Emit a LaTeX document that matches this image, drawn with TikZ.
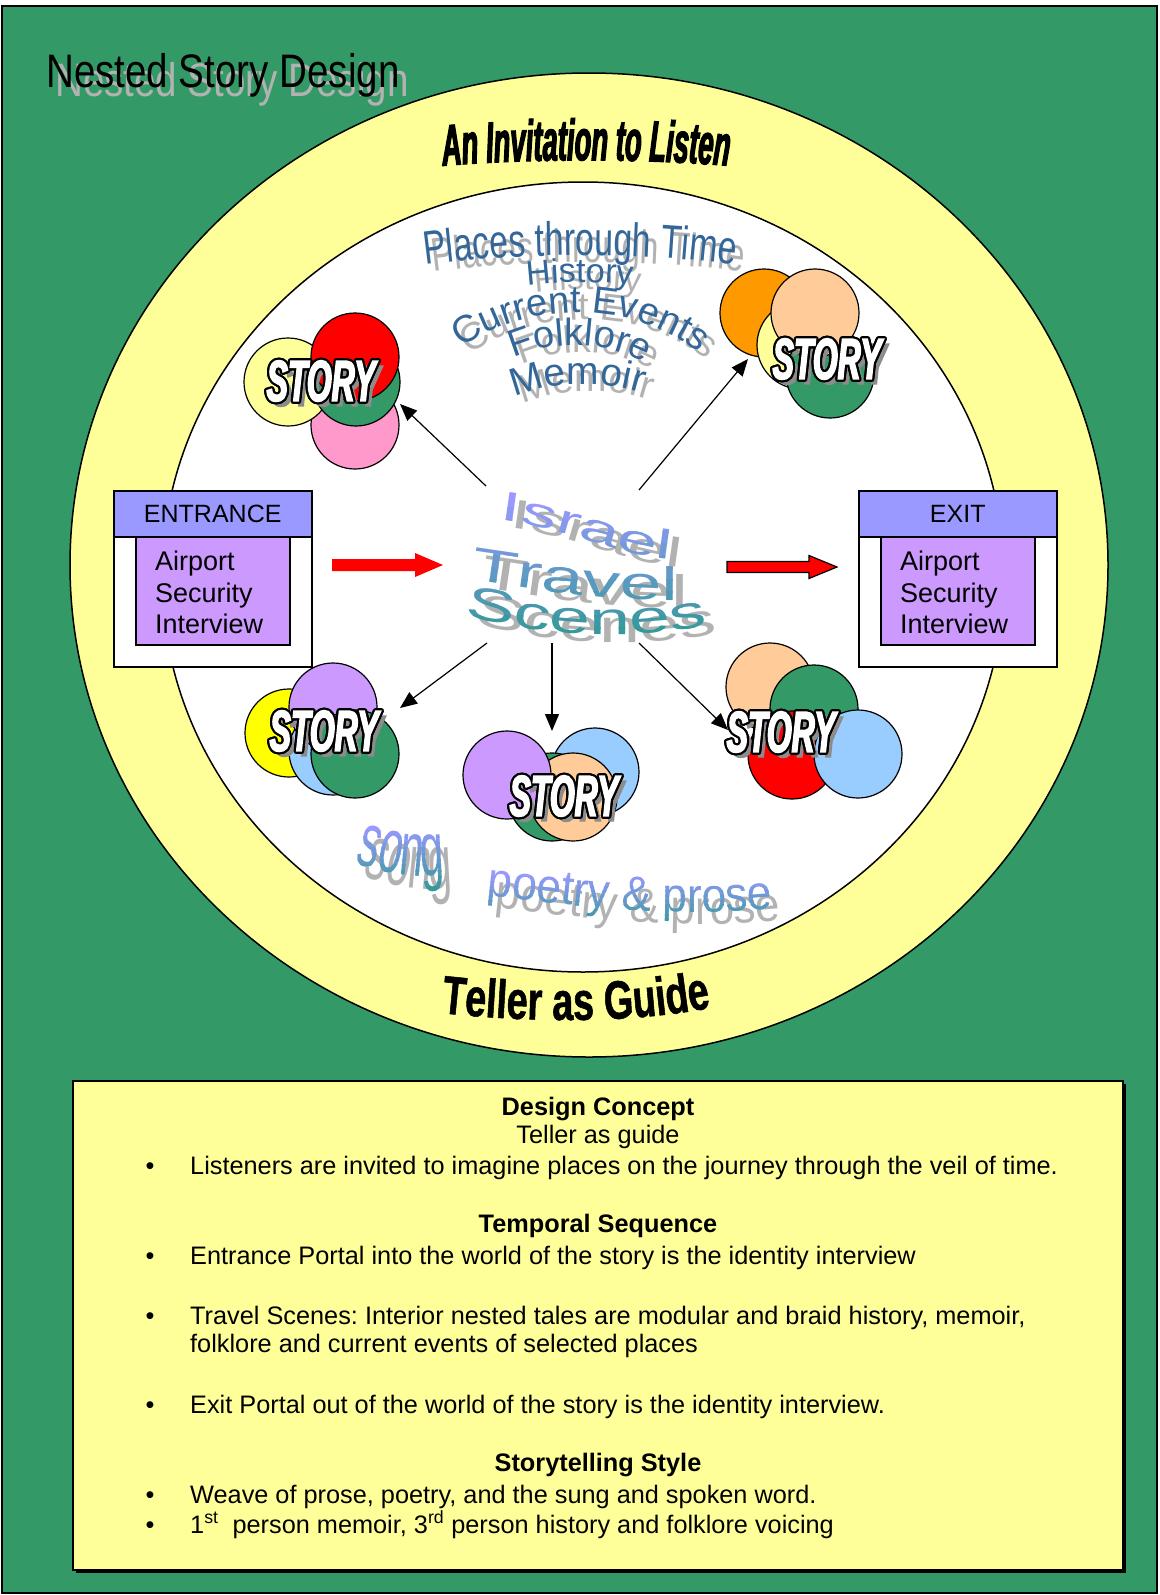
\documentclass[tikz,border=0pt]{standalone}
\usepackage{fontspec}
\setmainfont{Liberation Sans}
\frenchspacing
\newfontfamily\titlefont[FakeStretch=0.82]{Liberation Sans}
\newfontfamily\invitefont[FakeStretch=0.47, BoldItalicFeatures={FakeBold=2}]{Liberation Sans}
\newfontfamily\storyfont[FakeStretch=0.55, BoldItalicFeatures={FakeBold=2.5}]{Liberation Sans}
\newfontfamily\placesfont[FakeStretch=0.72]{Liberation Sans}
\newfontfamily\israelfont[FakeStretch=1.75]{Liberation Sans}
\newfontfamily\scenesfont[FakeStretch=1.6]{Liberation Sans}
\newfontfamily\songfont[FakeStretch=0.55]{Liberation Sans}
\newfontfamily\prosefont[FakeStretch=0.92]{Liberation Sans}
\newfontfamily\guidefont[FakeStretch=0.7, BoldFeatures={FakeBold=1}]{Liberation Sans}
\usetikzlibrary{arrows.meta,decorations.text}

\definecolor{sheetgreen}{HTML}{339966}
\definecolor{paleyellow}{HTML}{FFFF99}
\definecolor{portalblue}{HTML}{9999FF}
\definecolor{portalviolet}{HTML}{CC99FF}
\definecolor{shadowgray}{HTML}{B2B2B2}
\definecolor{storyshade}{HTML}{8C8C8C}
\definecolor{placesblue}{HTML}{336699}
\definecolor{waveblue}{HTML}{9999FF}
\definecolor{waveteal}{HTML}{339999}
\definecolor{discpink}{HTML}{FF99CC}
\definecolor{discorange}{HTML}{FF9900}
\definecolor{discpeach}{HTML}{FFCC99}
\definecolor{discsky}{HTML}{99CCFF}
\definecolor{discviolet}{HTML}{CC99FF}
\definecolor{discyellow}{HTML}{FFFF00}
\definecolor{discred}{HTML}{FF0000}

% word-art text set along a path, with its grey shadow underneath
\newcommand\artword[5]{%
  \path[shift={(#1)}, decorate, decoration={text along path, text align=center,
        text={|#2\color{shadowgray}|#4}}] #5;
  \path[decorate, decoration={text along path, text align=center,
        text={|#2\color{#3}|#4}}] #5;
}
\newcommand\artplain[4]{%
  \path[decorate, decoration={text along path, text align=center,
        text={|#1\color{#2}|#3}}] #4;
}
% grey shadow of a word-art text
\newcommand\artshadow[4]{%
  \path[shift={(#1)}, decorate, decoration={text along path, text align=center,
        text={|#2\color{shadowgray}|#3}}] #4;
}
% word-art text shaded from lavender (top y) to teal (bottom y) in horizontal bands
\newcommand\gradword[5]{%
  \foreach \k in {0,...,11} {
    \pgfmathsetmacro\ya{#4+\k*(#5-#4)/12-(\k==0)*80}
    \pgfmathsetmacro\yb{#4+(\k+1)*(#5-#4)/12+1+(\k==11)*80}
    \pgfmathtruncatemacro\mix{100-\k*100/11}
    \begin{scope}
      \clip (300,\ya) rectangle (830,\yb);
      \path[decorate, decoration={text along path, text align=center,
            text={|#1\color{waveblue!\mix!waveteal}|#2}}] #3;
    \end{scope}
  }
}
% outlined STORY label with drop shadow
\newcommand\storyword[3]{%
  \node[storytext, text=storyshade] (#1-sh) at ({#2+5},{#3+5}) {STORY};
  \foreach \a in {0,22.5,...,337.5}
    \node[storytext, text=black] (#1-o\a) at ({#2+2.2*cos(\a)},{#3+2.2*sin(\a)}) {STORY};
  \node[storytext, text=white] (#1) at (#2,#3) {STORY};
}

\tikzset{
  storytext/.style={inner sep=0, font=\storyfont\bfseries\itshape\fontsize{58}{58}\selectfont},
  disc/.style={circle, draw=black, line width=1.2, minimum size=88, inner sep=0},
  link/.style={line width=1.2, -{Triangle[length=17pt,width=14pt]}},
  portalframe/.style={draw=black, fill=white, line width=1.5, minimum width=198, minimum height=176, anchor=north west, inner sep=0},
  portalhead/.style={draw=black, fill=portalblue, line width=1.5, minimum width=198, minimum height=46, anchor=north west, inner sep=0, font=\fontsize{25}{25}\selectfont},
  portalbody/.style={draw=black, fill=portalviolet, line width=1.5, minimum width=154, minimum height=108, anchor=north west, inner sep=0},
  portaltext/.style={anchor=base west, inner sep=0, font=\fontsize{27}{27}\selectfont},
  bodytext/.style={anchor=base west, inner sep=0, font=\fontsize{25.3}{29}\selectfont},
  bodyhead/.style={anchor=base, inner sep=0, font=\bfseries\fontsize{25.3}{29}\selectfont},
  bodysub/.style={anchor=base, inner sep=0, font=\fontsize{25.3}{29}\selectfont},
  bulletmark/.style={anchor=base, inner sep=0, font=\fontsize{25.3}{29}\selectfont},
}

\begin{document}
\begin{tikzpicture}[x=1pt, y=-1pt]
\useasboundingbox (0,0) rectangle (1159,1595);

% sheet
\draw[fill=sheetgreen, line width=1.5] (2,6) rectangle (1157,1593);

% title
\node[anchor=base west, inner sep=0, text=shadowgray, font=\titlefont\fontsize{47}{47}\selectfont] (title-sh) at (55,96) {Nested Story Design};
\node[anchor=base west, inner sep=0, font=\titlefont\fontsize{47}{47}\selectfont] (title) at (46,87) {Nested Story Design};

% ring and interior
\draw[fill=paleyellow, line width=1.5] (589,565) ellipse [x radius=519, y radius=492];
\draw[fill=white, line width=1.5] (583,577) ellipse [x radius=421, y radius=395];

% ring captions
\artplain{\invitefont\bfseries\itshape\fontsize{58}{58}\selectfont}{black}{An Invitation to Listen}
  {(430,167) .. controls (520,158) and (650,158) .. (742,167)}
\artplain{\guidefont\bfseries\fontsize{54}{54}\selectfont}{black}{Teller as Guide}
  {(424,1011) .. controls (520,1023) and (640,1025) .. (728,1004)}

% places through time
\artword{8,7}{\placesfont\fontsize{47}{47}\selectfont}{placesblue}{Places through Time}
  {(400,269) .. controls (500,251) and (660,251) .. (760,269)}
\artword{8,7}{\fontsize{34}{34}\selectfont}{placesblue}{History}
  {(505,289) .. controls (550,280) and (610,280) .. (655,289)}
\artword{8,7}{\fontsize{38}{38}\selectfont}{placesblue}{Current Events}
  {(448,360) .. controls (514,296) and (646,296) .. (712,365)}
\artword{8,7}{\fontsize{38}{38}\selectfont}{placesblue}{Folklore}
  {(498,366) .. controls (545,337) and (612,337) .. (659,373)}
\artword{8,7}{\fontsize{39}{39}\selectfont}{placesblue}{Memoir}
  {(498,406) .. controls (545,378) and (612,378) .. (659,400)}

% centre title: Israel Travel Scenes
\artshadow{10,8}{\israelfont\fontsize{41}{41}\selectfont}{Israel}
  {(488,519) .. controls (550,521) and (610,556) .. (682,561)}
\artshadow{10,8}{\scenesfont\fontsize{47}{47}\selectfont}{Travel}
  {(458,578) .. controls (540,590) and (612,602) .. (690,600)}
\artshadow{10,8}{\scenesfont\fontsize{46}{46}\selectfont}{Scenes}
  {(448,613) .. controls (530,632) and (622,646) .. (724,622)}
\gradword{\israelfont\fontsize{41}{41}\selectfont}{Israel}
  {(488,519) .. controls (550,521) and (610,556) .. (682,561)}{495}{640}
\gradword{\scenesfont\fontsize{47}{47}\selectfont}{Travel}
  {(458,578) .. controls (540,590) and (612,602) .. (690,600)}{495}{640}
\gradword{\scenesfont\fontsize{46}{46}\selectfont}{Scenes}
  {(448,613) .. controls (530,632) and (622,646) .. (724,622)}{495}{640}
\coordinate (hub) at (562,565);

% song, poetry and prose
\artshadow{8,13}{\songfont\fontsize{77}{77}\selectfont}{song}
  {(340,860) .. controls (375,868) and (412,884) .. (460,872)}
\gradword{\songfont\fontsize{77}{77}\selectfont}{song}
  {(340,860) .. controls (375,868) and (412,884) .. (460,872)}{825}{893}
\artshadow{8,12}{\prosefont\fontsize{48}{48}\selectfont}{poetry {\&} prose}
  {(470,894) .. controls (560,902) and (662,922) .. (790,906)}
\gradword{\prosefont\fontsize{48}{48}\selectfont}{poetry {\&} prose}
  {(470,894) .. controls (560,902) and (662,922) .. (790,906)}{872}{928}

% entrance portal
\node[portalframe] (ent) at (113,490) {};
\node[portalhead] (ent-head) at (113,490) {ENTRANCE};
\node[portalbody] (ent-body) at (135,536) {};
\node[portaltext] (ent-l1) at (155,570) {Airport};
\node[portaltext] (ent-l2) at (155,602) {Security};
\node[portaltext] (ent-l3) at (155,633) {Interview};

% exit portal
\node[portalframe] (exit) at (858,490) {};
\node[portalhead] (exit-head) at (858,490) {EXIT};
\node[portalbody] (exit-body) at (880,536) {};
\node[portaltext] (exit-l1) at (900,570) {Airport};
\node[portaltext] (exit-l2) at (900,602) {Security};
\node[portaltext] (exit-l3) at (900,633) {Interview};

% block arrows into and out of the travel scenes
\coordinate (in-tail) at (332,565);
\coordinate (in-tip) at (443,565);
\fill[discred] (in-tail) ++(0,-6) -- ++(83,0) -- ++(0,-6) -- (in-tip) -- ++(-28,12) -- ++(0,-6) -- ++(-83,0) -- cycle;
\coordinate (out-tail) at (727,567);
\coordinate (out-tip) at (837,567);
\filldraw[fill=discred, draw=black, line width=1.2] (out-tail) ++(0,-5.5) -- ++(82,0) -- ++(0,-6) -- (out-tip) -- ++(-28,11.5) -- ++(0,-6) -- ++(-82,0) -- cycle;

% story cluster, upper left
\node[disc, fill=discpink] (s1-d) at (355,425) {};
\node[disc, fill=paleyellow] (s1-a) at (288,382) {};
\node[disc, fill=sheetgreen] (s1-c) at (356,382) {};
\node[disc, fill=discred] (s1-b) at (355,357) {};
\storyword{s1}{321}{381}

% story cluster, upper right
\node[disc, fill=discorange] (s2-a) at (764,313) {};
\node[disc, fill=paleyellow] (s2-b) at (801,345) {};
\node[disc, fill=sheetgreen] (s2-d) at (830,374) {};
\node[disc, fill=discpeach] (s2-c) at (815,313) {};
\storyword{s2}{827}{359}

% story cluster, lower left
\node[disc, fill=discyellow] (s3-a) at (289,733) {};
\node[disc, fill=discsky] (s3-c) at (333,751) {};
\node[disc, fill=discviolet] (s3-b) at (333,707) {};
\node[disc, fill=sheetgreen] (s3-d) at (355,754) {};
\storyword{s3}{324}{731}

% story cluster, lower centre
\node[disc, fill=discsky] (s4-b) at (595,772) {};
\node[disc, fill=sheetgreen] (s4-c) at (552,797) {};
\node[disc, fill=discpeach] (s4-d) at (573,797) {};
\node[disc, fill=discviolet] (s4-a) at (507,775) {};
\storyword{s4}{564}{796}

% story cluster, lower right
\node[disc, fill=discpeach] (s5-a) at (770,687) {};
\node[disc, fill=sheetgreen] (s5-b) at (814,709) {};
\node[disc, fill=discred] (s5-c) at (792,755) {};
\node[disc, fill=discsky] (s5-d) at (858,754) {};
\storyword{s5}{781}{732}

% links from the travel scenes to each story
\coordinate (hub-nw) at (486,486);
\coordinate (hub-ne) at (639,490);
\coordinate (hub-sw) at (487,643);
\coordinate (hub-s) at (552,643);
\coordinate (hub-se) at (639,643);
\coordinate (s1-in) at (400,404);
\coordinate (s2-in) at (748,359);
\coordinate (s3-in) at (400,708);
\coordinate (s4-in) at (552,731);
\coordinate (s5-in) at (728,730);
\draw[link] (hub-nw) -- (s1-in);
\draw[link] (hub-ne) -- (s2-in);
\draw[link] (hub-sw) -- (s3-in);
\draw[link] (hub-s) -- (s4-in);
\draw[link] (hub-se) -- (s5-in);

% design notes
\fill[black] (76,1084) rectangle (1126,1573);
\draw[fill=paleyellow, line width=1.2] (73,1081) rectangle (1123,1570);

\node[bodyhead] (n-h1) at (598,1115) {Design Concept};
\node[bodysub] (n-h1s) at (598,1143) {Teller as guide};
\node[bulletmark] (n-b1) at (150,1174) {\textbullet};
\node[bodytext] (n-t1) at (190,1174) {Listeners are invited to imagine places on the journey through the veil of time.};

\node[bodyhead] (n-h2) at (598,1232) {Temporal Sequence};
\node[bulletmark] (n-b2) at (150,1264) {\textbullet};
\node[bodytext] (n-t2) at (190,1264) {Entrance Portal into the world of the story is the identity interview};
\node[bulletmark] (n-b3) at (150,1324) {\textbullet};
\node[bodytext] (n-t3) at (190,1324) {Travel Scenes: Interior nested tales are modular and braid history, memoir,};
\node[bodytext] (n-t3b) at (190,1352) {folklore and current events of selected places};
\node[bulletmark] (n-b4) at (150,1413) {\textbullet};
\node[bodytext] (n-t4) at (190,1413) {Exit Portal out of the world of the story is the identity interview.};

\node[bodyhead] (n-h3) at (598,1471) {Storytelling Style};
\node[bulletmark] (n-b5) at (150,1503) {\textbullet};
\node[bodytext] (n-t5) at (190,1503) {Weave of prose, poetry, and the sung and spoken word.};
\node[bulletmark] (n-b6) at (150,1533) {\textbullet};
\node[bodytext] (n-t6) at (190,1533) {1\textsuperscript{st}~ person memoir, 3\textsuperscript{rd} person history and folklore voicing};
\end{tikzpicture}
\end{document}
